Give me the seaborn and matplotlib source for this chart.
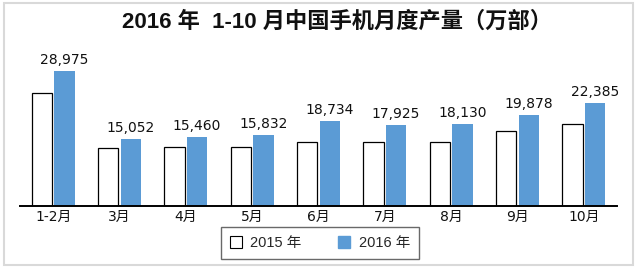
import matplotlib
matplotlib.use("Agg")
import matplotlib.pyplot as plt
from matplotlib.patches import Patch, Rectangle
import seaborn as sns
import pandas as pd

months = ["1-2月", "3月", "4月", "5月", "6月", "7月", "8月", "9月", "10月"]
values_2015 = [24550, 13220, 13420, 13360, 14510, 14450, 14450, 16760, 18140]
values_2016 = [28975, 15052, 15460, 15832, 18734, 17925, 18130, 19878, 22385]
series = ["2015 年", "2016 年"]
title = "2016 年  1-10 月中国手机月度产量（万部）"

df = pd.DataFrame({
    "month": months * 2,
    "value": values_2015 + values_2016,
    "year": [series[0]] * len(months) + [series[1]] * len(months),
})

sns.set_theme(style="white")
plt.rcParams["font.family"] = ["DejaVu Sans", "Noto Sans CJK SC"]

fig = plt.figure(figsize=(6.39, 2.71), dpi=100)
W, H = 639, 271
ax = fig.add_axes([20 / W, (H - 206) / H, (617 - 20) / W, (206 - 50) / H])

blue = "#5B9BD5"
sns.barplot(data=df, x="month", y="value", hue="year", order=months,
            hue_order=series, palette={series[0]: "white", series[1]: blue},
            width=0.68, gap=0.09, ax=ax, legend=False, saturation=1)

for bar in ax.containers[0]:
    bar.set_edgecolor("black")
    bar.set_linewidth(0.9)
for bar in ax.containers[1]:
    bar.set_edgecolor(blue)
    bar.set_linewidth(0)

ax.bar_label(ax.containers[1], labels=[f"{v:,}" for v in values_2016],
             padding=3, fontsize=10, color="#111111")

ax.set_ylim(1300, 33270)
ax.set_xlim(-0.5, len(months) - 0.5)
ax.set_xlabel("")
ax.set_ylabel("")
ax.set_yticks([])
for s in ["top", "right", "left"]:
    ax.spines[s].set_visible(False)
ax.spines["bottom"].set_color("black")
ax.spines["bottom"].set_linewidth(1.4)
ax.tick_params(axis="x", length=0, pad=3, labelsize=10, colors="#111111")
ax.patch.set_alpha(0)

handles = [Patch(facecolor="white", edgecolor="black", linewidth=0.8, label=series[0]),
           Patch(facecolor=blue, edgecolor=blue, label=series[1])]
leg = fig.legend(handles=handles, loc="center", bbox_to_anchor=(320 / W, 1 - 243 / H),
                 ncol=2, frameon=True, fancybox=False, fontsize=10,
                 handlelength=0.8, handleheight=0.8, columnspacing=2.5,
                 borderpad=0.6, handletextpad=0.6,
                 prop={"family": ["Liberation Sans", "Noto Sans CJK SC"], "size": 10.5})
leg.get_frame().set_edgecolor("#444444")
leg.get_frame().set_linewidth(1.0)

fig.text(337 / W, 1 - 22 / H, title, ha="center", va="center",
         fontsize=16, fontweight="bold",
         family=["Liberation Sans", "Noto Sans CJK SC"], color="#111111")

fig.patches.append(Rectangle((4 / W, 1 - 265 / H), 629 / W, 262 / H,
                             transform=fig.transFigure, fill=False,
                             edgecolor="#D9D9D9", linewidth=1.5))

fig.savefig("out.png", dpi=100)
